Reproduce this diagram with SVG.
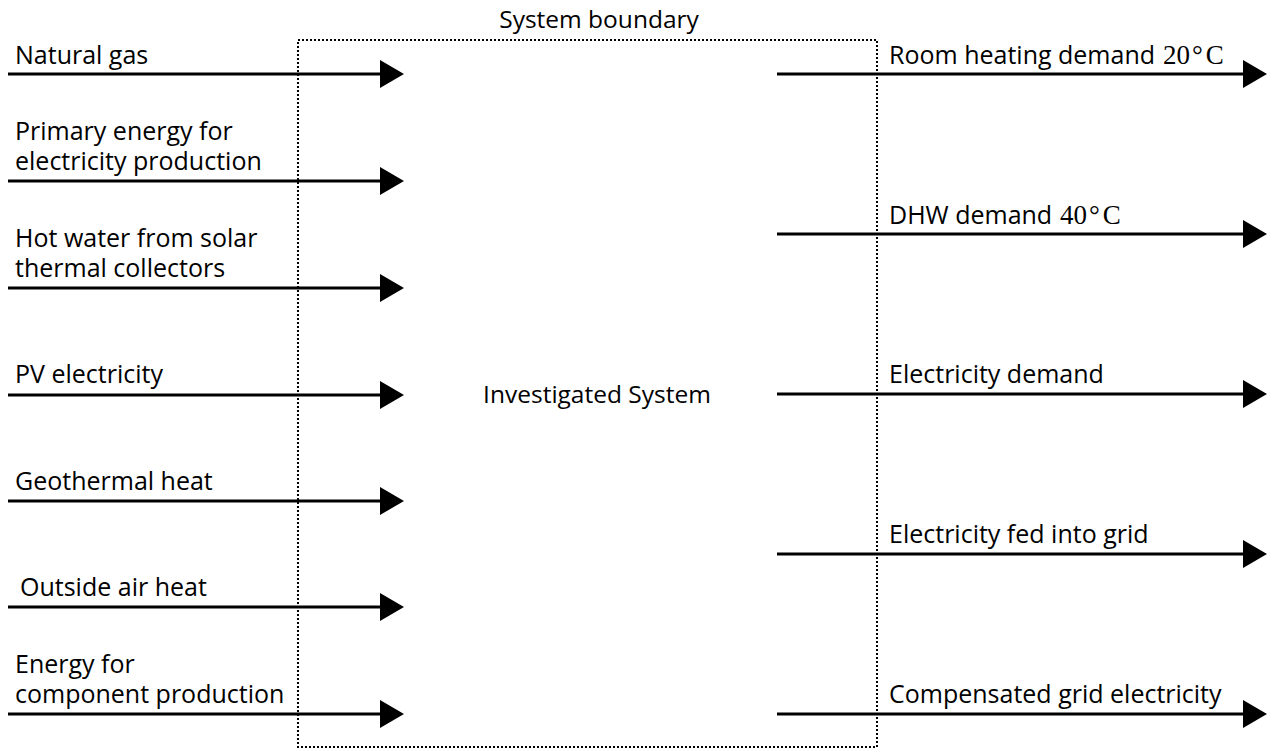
<svg xmlns="http://www.w3.org/2000/svg" width="1272" height="749" viewBox="0 0 1272 749">
<style>
text{font-family:"Open Sans","Noto Sans","Liberation Sans",sans-serif;font-size:25px;fill:#000}
.m{font-size:24.5px}
.s{font-family:"Liberation Serif",serif;font-size:27px}
.c{stroke:#000;stroke-width:3;fill:none}
.h{fill:#000}
</style>
<rect width="1272" height="749" fill="#fff"/>
<g id="boundary">
<rect x="298" y="40" width="579" height="707" fill="none" stroke="#000" stroke-width="2" stroke-dasharray="2,2"/>
<text class="m" x="599" y="28" text-anchor="middle">System boundary</text>
</g>
<g id="system"><text class="m" x="597" y="403" text-anchor="middle">Investigated System</text></g>
<g id="inputs">
<text x="15" y="64">Natural gas</text>
<text x="15" y="140">Primary energy for<tspan x="15" dy="30">electricity production</tspan></text>
<text x="15" y="247">Hot water from solar<tspan x="15" dy="30">thermal collectors</tspan></text>
<text x="15" y="383">PV electricity</text>
<text x="15" y="490">Geothermal heat</text>
<text x="20" y="596">Outside air heat</text>
<text x="15" y="673">Energy for<tspan x="15" dy="30">component production</tspan></text>
</g>
<g id="outputs">
<text x="889" y="64">Room heating demand <tspan class="s" x="1163">20</tspan><tspan class="s" dx="2">°</tspan><tspan class="s" dx="3">C</tspan></text>
<text x="889" y="224">DHW demand <tspan class="s" x="1060">40</tspan><tspan class="s" dx="2">°</tspan><tspan class="s" dx="3">C</tspan></text>
<text x="889" y="383">Electricity demand</text>
<text x="889" y="543">Electricity fed into grid</text>
<text x="889" y="703">Compensated grid electricity</text>
</g>
<g id="connectors">
<path class="c" d="M8 74H382M8 181H382M8 288H382M8 395H382M8 501H382M8 607H382M8 714H382"/>
<path class="h" d="M380 60L404 74L380 88ZM380 167L404 181L380 195ZM380 274L404 288L380 302ZM380 381L404 395L380 409ZM380 487L404 501L380 515ZM380 593L404 607L380 621ZM380 700L404 714L380 728Z"/>
<path class="c" d="M777 74H1245M777 234H1245M777 394H1245M777 554H1245M777 714H1245"/>
<path class="h" d="M1243 60L1267 74L1243 88ZM1243 220L1267 234L1243 248ZM1243 380L1267 394L1243 408ZM1243 540L1267 554L1243 568ZM1243 700L1267 714L1243 728Z"/>
</g>
</svg>
